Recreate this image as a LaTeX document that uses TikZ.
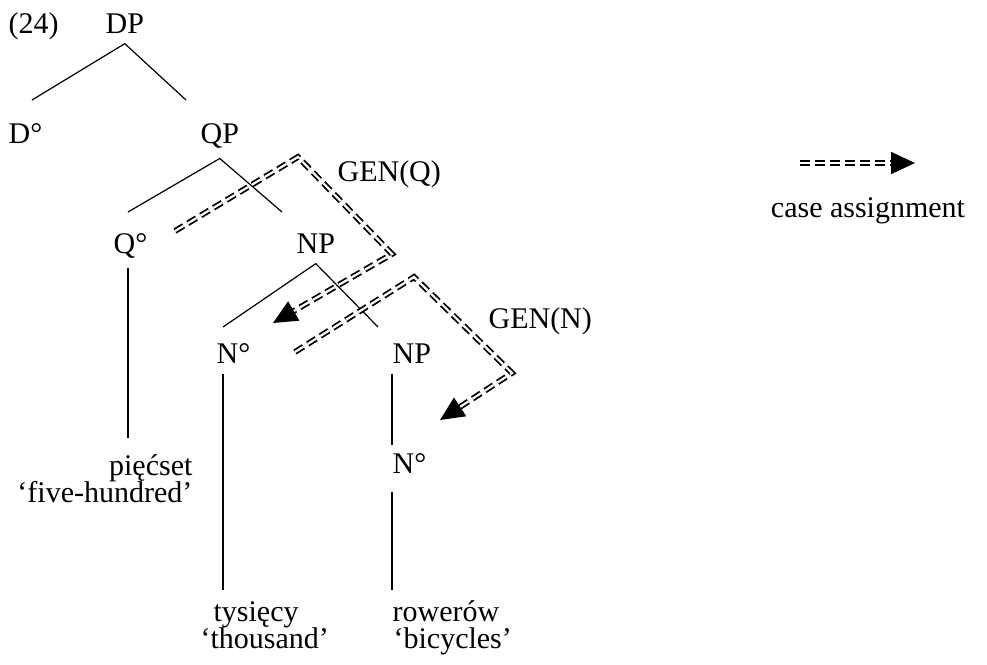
\documentclass[tikz,border=0pt]{standalone}
\usepackage{fontspec}
\setmainfont{Liberation Serif}
\usetikzlibrary{arrows.meta}

\begin{document}
\begin{tikzpicture}[x=0.5pt,y=-0.5pt,semithick]
\tikzset{font=\fontsize{15pt}{15pt}\selectfont}
\tikzstyle{cat}=[inner xsep=0pt,inner ysep=5pt,anchor=base west]
\tikzstyle{word}=[inner sep=0pt,anchor=base west]
\tikzstyle{casearrow}=[line width=0.9pt,double distance=1.1pt,dash pattern=on 5pt off 2.5pt,
                       -{Triangle[length=12pt,width=11pt]}]

\useasboundingbox (0,0) rectangle (987,665);

        \node[word]                 (ex)   at (8,33)    {(24)};
        \node[cat]                  (DP)   at (105,33)  {DP};
        \node[cat]                  (D)    at (8,143)   {D°};
        \node[cat]                  (QP)   at (200,143) {QP};
        \node[cat]                  (Q)    at (113,253) {Q°};
        \node[cat]                  (NP)   at (296,253) {NP};
        \node[cat]                  (N)    at (216,363) {N°};
        \node[cat]                  (NP2)  at (392,363) {NP};
        \node[cat,inner ysep=9pt]   (N2)   at (392,473) {N°};

        \node[word,anchor=base east] (w0)  at (193,475) {pięćset};
        \node[word,anchor=base east] (g0)  at (193,502) {‘five-hundred’};
        \node[word]                 (w1)   at (213,621) {tysięcy};
        \node[word]                 (g1)   at (200,648) {‘thousand’};
        \node[word]                 (w2)   at (392,621) {rowerów};
        \node[word]                 (g2)   at (393,648) {‘bicycles’};

        \node[word]                 (genQ) at (337,181) {GEN(Q)};
        \node[word]                 (genN) at (488,328) {GEN(N)};
        \node[word,anchor=base]     (key)  at (868,217) {case assignment};

        % branch ends
        \coordinate (DP-l) at (32,100);   \coordinate (DP-r) at (186,100);
        \coordinate (QP-l) at (128,212);  \coordinate (QP-r) at (282,212);
        \coordinate (NP-l) at (223,327);  \coordinate (NP-r) at (378,327);
        \coordinate (Q-f)  at (128,438);  \coordinate (N-f)  at (223,590);
        \coordinate (NP2-f) at (392,445); \coordinate (N2-f) at (392,590);

        \path
        (DP.south)          edge (DP-l)  edge (DP-r)
        (QP.south)          edge (QP-l)  edge (QP-r)
        (NP.south)          edge (NP-l)  edge (NP-r)
        (Q.south -| Q-f)    edge (Q-f)
        (N.south -| N-f)    edge (N-f)
        (NP2.south -| NP2-f) edge (NP2-f)
        (N2.south -| N2-f)  edge (N2-f)
        ; %end path

        % case arrows
        \coordinate (q0) at (175,231);  \coordinate (q1) at (298,157);
        \coordinate (q2) at (392,254);  \coordinate (q3) at (273,323);
        \coordinate (n0) at (295,352);  \coordinate (n1) at (414,277);
        \coordinate (n2) at (512,373);  \coordinate (n3) at (440,420);
        \coordinate (k0) at (800,163);  \coordinate (k1) at (915,163);

        \draw[casearrow] (q0) -- (q1) -- (q2) -- (q3);
        \draw[casearrow] (n0) -- (n1) -- (n2) -- (n3);
        \draw[casearrow] (k0) -- (k1);

\end{tikzpicture}
\end{document}
